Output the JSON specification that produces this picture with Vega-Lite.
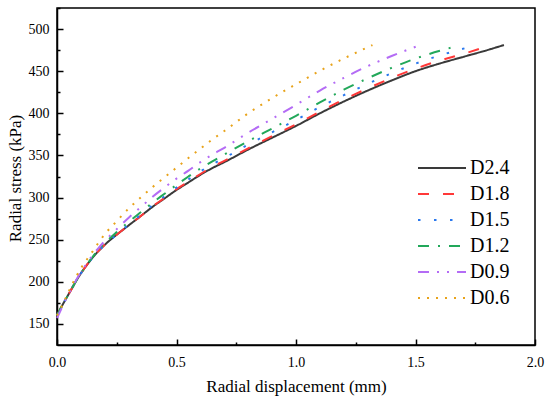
{
  "$schema": "https://vega.github.io/schema/vega-lite/v6.json",
  "autosize": {"type": "none"},
  "padding": {"left": 57, "top": 8, "right": 15, "bottom": 57},
  "width": 478,
  "height": 337,
  "background": "white",
  "config": {
    "font": "Liberation Serif",
    "view": {"stroke": "black", "strokeWidth": 1.5},
    "axis": {
      "labelColor": "black",
      "titleColor": "black",
      "labelFont": "Liberation Serif",
      "titleFont": "Liberation Serif",
      "labelFontSize": 14,
      "titleFontSize": 17,
      "titleFontWeight": "normal",
      "domainColor": "black",
      "domainWidth": 1.5,
      "tickColor": "black",
      "tickWidth": 1.5,
      "grid": false
    },
    "legend": {
      "labelFont": "Liberation Serif",
      "labelFontSize": 20,
      "labelColor": "black"
    }
  },
  "data": {
    "values": [
      {"series": "D2.4", "disp": 0, "stress": 160},
      {"series": "D2.4", "disp": 0.02, "stress": 171},
      {"series": "D2.4", "disp": 0.04, "stress": 181},
      {"series": "D2.4", "disp": 0.06, "stress": 191},
      {"series": "D2.4", "disp": 0.08, "stress": 201},
      {"series": "D2.4", "disp": 0.1, "stress": 210},
      {"series": "D2.4", "disp": 0.125, "stress": 220},
      {"series": "D2.4", "disp": 0.15, "stress": 229},
      {"series": "D2.4", "disp": 0.175, "stress": 237},
      {"series": "D2.4", "disp": 0.2, "stress": 244},
      {"series": "D2.4", "disp": 0.25, "stress": 256},
      {"series": "D2.4", "disp": 0.3, "stress": 267},
      {"series": "D2.4", "disp": 0.35, "stress": 278},
      {"series": "D2.4", "disp": 0.4, "stress": 289},
      {"series": "D2.4", "disp": 0.45, "stress": 299},
      {"series": "D2.4", "disp": 0.5, "stress": 309},
      {"series": "D2.4", "disp": 0.55, "stress": 318},
      {"series": "D2.4", "disp": 0.6, "stress": 327},
      {"series": "D2.4", "disp": 0.65, "stress": 335},
      {"series": "D2.4", "disp": 0.7, "stress": 342},
      {"series": "D2.4", "disp": 0.8, "stress": 357},
      {"series": "D2.4", "disp": 0.9, "stress": 371},
      {"series": "D2.4", "disp": 1.0, "stress": 385},
      {"series": "D2.4", "disp": 1.1, "stress": 400},
      {"series": "D2.4", "disp": 1.2, "stress": 414},
      {"series": "D2.4", "disp": 1.3, "stress": 427},
      {"series": "D2.4", "disp": 1.4, "stress": 439},
      {"series": "D2.4", "disp": 1.5, "stress": 450},
      {"series": "D2.4", "disp": 1.6, "stress": 459},
      {"series": "D2.4", "disp": 1.7, "stress": 467},
      {"series": "D2.4", "disp": 1.8, "stress": 475},
      {"series": "D2.4", "disp": 1.87, "stress": 481},

      {"series": "D1.8", "disp": 0, "stress": 160},
      {"series": "D1.8", "disp": 0.02, "stress": 171},
      {"series": "D1.8", "disp": 0.04, "stress": 181},
      {"series": "D1.8", "disp": 0.06, "stress": 191},
      {"series": "D1.8", "disp": 0.08, "stress": 201},
      {"series": "D1.8", "disp": 0.1, "stress": 210},
      {"series": "D1.8", "disp": 0.125, "stress": 220},
      {"series": "D1.8", "disp": 0.15, "stress": 229},
      {"series": "D1.8", "disp": 0.175, "stress": 237},
      {"series": "D1.8", "disp": 0.2, "stress": 244},
      {"series": "D1.8", "disp": 0.25, "stress": 256},
      {"series": "D1.8", "disp": 0.3, "stress": 267},
      {"series": "D1.8", "disp": 0.35, "stress": 278},
      {"series": "D1.8", "disp": 0.4, "stress": 289.5},
      {"series": "D1.8", "disp": 0.45, "stress": 299.5},
      {"series": "D1.8", "disp": 0.5, "stress": 310},
      {"series": "D1.8", "disp": 0.55, "stress": 319},
      {"series": "D1.8", "disp": 0.6, "stress": 328},
      {"series": "D1.8", "disp": 0.65, "stress": 336.5},
      {"series": "D1.8", "disp": 0.7, "stress": 343.5},
      {"series": "D1.8", "disp": 0.8, "stress": 358.5},
      {"series": "D1.8", "disp": 0.9, "stress": 373},
      {"series": "D1.8", "disp": 1.0, "stress": 387},
      {"series": "D1.8", "disp": 1.1, "stress": 402},
      {"series": "D1.8", "disp": 1.2, "stress": 416.5},
      {"series": "D1.8", "disp": 1.3, "stress": 429.5},
      {"series": "D1.8", "disp": 1.4, "stress": 442},
      {"series": "D1.8", "disp": 1.5, "stress": 453},
      {"series": "D1.8", "disp": 1.6, "stress": 462.5},
      {"series": "D1.8", "disp": 1.7, "stress": 470.5},
      {"series": "D1.8", "disp": 1.79, "stress": 478.5},

      {"series": "D1.5", "disp": 0, "stress": 160},
      {"series": "D1.5", "disp": 0.02, "stress": 171},
      {"series": "D1.5", "disp": 0.04, "stress": 181},
      {"series": "D1.5", "disp": 0.06, "stress": 191},
      {"series": "D1.5", "disp": 0.08, "stress": 201},
      {"series": "D1.5", "disp": 0.1, "stress": 210},
      {"series": "D1.5", "disp": 0.125, "stress": 220},
      {"series": "D1.5", "disp": 0.15, "stress": 229},
      {"series": "D1.5", "disp": 0.175, "stress": 237},
      {"series": "D1.5", "disp": 0.2, "stress": 244},
      {"series": "D1.5", "disp": 0.25, "stress": 256},
      {"series": "D1.5", "disp": 0.3, "stress": 268},
      {"series": "D1.5", "disp": 0.35, "stress": 279.5},
      {"series": "D1.5", "disp": 0.4, "stress": 291},
      {"series": "D1.5", "disp": 0.45, "stress": 301.5},
      {"series": "D1.5", "disp": 0.5, "stress": 312},
      {"series": "D1.5", "disp": 0.55, "stress": 321.5},
      {"series": "D1.5", "disp": 0.6, "stress": 331},
      {"series": "D1.5", "disp": 0.65, "stress": 339.5},
      {"series": "D1.5", "disp": 0.7, "stress": 347},
      {"series": "D1.5", "disp": 0.8, "stress": 363},
      {"series": "D1.5", "disp": 0.9, "stress": 377.5},
      {"series": "D1.5", "disp": 1.0, "stress": 392},
      {"series": "D1.5", "disp": 1.1, "stress": 407.5},
      {"series": "D1.5", "disp": 1.2, "stress": 421.5},
      {"series": "D1.5", "disp": 1.3, "stress": 435},
      {"series": "D1.5", "disp": 1.4, "stress": 447.5},
      {"series": "D1.5", "disp": 1.5, "stress": 459},
      {"series": "D1.5", "disp": 1.6, "stress": 468.5},
      {"series": "D1.5", "disp": 1.73, "stress": 479},

      {"series": "D1.2", "disp": 0, "stress": 160},
      {"series": "D1.2", "disp": 0.02, "stress": 171},
      {"series": "D1.2", "disp": 0.04, "stress": 181},
      {"series": "D1.2", "disp": 0.06, "stress": 191},
      {"series": "D1.2", "disp": 0.08, "stress": 201},
      {"series": "D1.2", "disp": 0.1, "stress": 210},
      {"series": "D1.2", "disp": 0.125, "stress": 220.5},
      {"series": "D1.2", "disp": 0.15, "stress": 230},
      {"series": "D1.2", "disp": 0.175, "stress": 238.5},
      {"series": "D1.2", "disp": 0.2, "stress": 246},
      {"series": "D1.2", "disp": 0.25, "stress": 259},
      {"series": "D1.2", "disp": 0.3, "stress": 271},
      {"series": "D1.2", "disp": 0.35, "stress": 282.5},
      {"series": "D1.2", "disp": 0.4, "stress": 294},
      {"series": "D1.2", "disp": 0.45, "stress": 304.5},
      {"series": "D1.2", "disp": 0.5, "stress": 315},
      {"series": "D1.2", "disp": 0.55, "stress": 325},
      {"series": "D1.2", "disp": 0.6, "stress": 334.5},
      {"series": "D1.2", "disp": 0.65, "stress": 343},
      {"series": "D1.2", "disp": 0.7, "stress": 351},
      {"series": "D1.2", "disp": 0.8, "stress": 367},
      {"series": "D1.2", "disp": 0.9, "stress": 382},
      {"series": "D1.2", "disp": 1.0, "stress": 397},
      {"series": "D1.2", "disp": 1.1, "stress": 413},
      {"series": "D1.2", "disp": 1.2, "stress": 428},
      {"series": "D1.2", "disp": 1.3, "stress": 441.5},
      {"series": "D1.2", "disp": 1.4, "stress": 454},
      {"series": "D1.2", "disp": 1.5, "stress": 465},
      {"series": "D1.2", "disp": 1.65, "stress": 478},

      {"series": "D0.9", "disp": 0, "stress": 157},
      {"series": "D0.9", "disp": 0.02, "stress": 169},
      {"series": "D0.9", "disp": 0.04, "stress": 181},
      {"series": "D0.9", "disp": 0.06, "stress": 191.5},
      {"series": "D0.9", "disp": 0.08, "stress": 202},
      {"series": "D0.9", "disp": 0.1, "stress": 211.5},
      {"series": "D0.9", "disp": 0.125, "stress": 222},
      {"series": "D0.9", "disp": 0.15, "stress": 232},
      {"series": "D0.9", "disp": 0.175, "stress": 240.5},
      {"series": "D0.9", "disp": 0.2, "stress": 248.5},
      {"series": "D0.9", "disp": 0.25, "stress": 262.5},
      {"series": "D0.9", "disp": 0.3, "stress": 276},
      {"series": "D0.9", "disp": 0.35, "stress": 288.5},
      {"series": "D0.9", "disp": 0.4, "stress": 301},
      {"series": "D0.9", "disp": 0.45, "stress": 312},
      {"series": "D0.9", "disp": 0.5, "stress": 322.5},
      {"series": "D0.9", "disp": 0.55, "stress": 332},
      {"series": "D0.9", "disp": 0.6, "stress": 342},
      {"series": "D0.9", "disp": 0.65, "stress": 351},
      {"series": "D0.9", "disp": 0.7, "stress": 359},
      {"series": "D0.9", "disp": 0.8, "stress": 377},
      {"series": "D0.9", "disp": 0.9, "stress": 393.5},
      {"series": "D0.9", "disp": 1.0, "stress": 410},
      {"series": "D0.9", "disp": 1.1, "stress": 427},
      {"series": "D0.9", "disp": 1.2, "stress": 442},
      {"series": "D0.9", "disp": 1.3, "stress": 456},
      {"series": "D0.9", "disp": 1.4, "stress": 468},
      {"series": "D0.9", "disp": 1.52, "stress": 481},

      {"series": "D0.6", "disp": 0, "stress": 160},
      {"series": "D0.6", "disp": 0.02, "stress": 171},
      {"series": "D0.6", "disp": 0.04, "stress": 183},
      {"series": "D0.6", "disp": 0.06, "stress": 195},
      {"series": "D0.6", "disp": 0.08, "stress": 206},
      {"series": "D0.6", "disp": 0.1, "stress": 216},
      {"series": "D0.6", "disp": 0.125, "stress": 226.5},
      {"series": "D0.6", "disp": 0.15, "stress": 236.5},
      {"series": "D0.6", "disp": 0.175, "stress": 247},
      {"series": "D0.6", "disp": 0.2, "stress": 256.5},
      {"series": "D0.6", "disp": 0.25, "stress": 272},
      {"series": "D0.6", "disp": 0.3, "stress": 287},
      {"series": "D0.6", "disp": 0.35, "stress": 300},
      {"series": "D0.6", "disp": 0.4, "stress": 312.5},
      {"series": "D0.6", "disp": 0.45, "stress": 324},
      {"series": "D0.6", "disp": 0.5, "stress": 335.5},
      {"series": "D0.6", "disp": 0.55, "stress": 347},
      {"series": "D0.6", "disp": 0.6, "stress": 358},
      {"series": "D0.6", "disp": 0.65, "stress": 369},
      {"series": "D0.6", "disp": 0.7, "stress": 379},
      {"series": "D0.6", "disp": 0.8, "stress": 400},
      {"series": "D0.6", "disp": 0.9, "stress": 418},
      {"series": "D0.6", "disp": 1.0, "stress": 434.5},
      {"series": "D0.6", "disp": 1.1, "stress": 450.5},
      {"series": "D0.6", "disp": 1.2, "stress": 465},
      {"series": "D0.6", "disp": 1.32, "stress": 481}
    ]
  },
  "resolve": {"axis": {"x": "independent", "y": "independent"}},
  "layer": [
    {
      "mark": {"type": "line", "strokeWidth": 2, "interpolate": "monotone"},
      "encoding": {
        "x": {
          "field": "disp",
          "type": "quantitative",
          "scale": {"domain": [0, 2], "nice": false},
          "axis": {
            "title": "Radial displacement (mm)",
            "values": [0, 0.5, 1, 1.5, 2],
            "format": ".1f",
            "tickSize": -6,
            "labelPadding": 16,
            "labelFlush": false,
            "labelFont": "Liberation Serif",
            "titleFont": "Liberation Serif",
            "titleY": 41,
            "titleBaseline": "middle"
          }
        },
        "y": {
          "field": "stress",
          "type": "quantitative",
          "scale": {"domain": [125, 525], "nice": false, "zero": false},
          "axis": {
            "title": "Radial stress (kPa)",
            "values": [150, 200, 250, 300, 350, 400, 450, 500],
            "tickSize": -6,
            "labelPadding": 14,
            "labelFont": "Liberation Serif",
            "titleFont": "Liberation Serif",
            "titleX": -42,
            "titleY": 170,
            "titleBaseline": "middle"
          }
        },
        "color": {
          "field": "series",
          "type": "nominal",
          "scale": {
            "domain": ["D2.4", "D1.8", "D1.5", "D1.2", "D0.9", "D0.6"],
            "range": ["#3a3a3a", "#ff3838", "#2a78ee", "#22a85a", "#b46cf5", "#e8a31a"]
          },
          "legend": {
            "title": null,
            "orient": "none",
            "legendX": 372,
            "legendY": 147,
            "symbolType": "M-2,0H2",
            "symbolSize": 576,
            "symbolStrokeWidth": 2,
            "labelOffset": 15,
            "rowPadding": 3,
            "labelFont": "Liberation Serif",
            "labelFontSize": 20
          }
        },
        "strokeDash": {
          "field": "series",
          "type": "nominal",
          "scale": {
            "domain": ["D2.4", "D1.8", "D1.5", "D1.2", "D0.9", "D0.6"],
            "range": [[1, 0], [11, 14], [2.5, 13.5], [11, 9, 2, 9], [11, 8, 2, 8, 2, 8], [2, 7]]
          },
          "legend": null
        }
      }
    },
    {
      "mark": {"type": "point", "opacity": 0},
      "encoding": {
        "x": {
          "field": "disp",
          "type": "quantitative",
          "axis": {
            "orient": "bottom",
            "values": [0.25, 0.75, 1.25, 1.75],
            "labels": false,
            "domain": false,
            "tickSize": -3,
            "title": null
          }
        },
        "y": {
          "field": "stress",
          "type": "quantitative",
          "axis": {
            "orient": "left",
            "values": [175, 225, 275, 325, 375, 425, 475, 525],
            "labels": false,
            "domain": false,
            "tickSize": -3,
            "title": null
          }
        }
      }
    }
  ]
}
